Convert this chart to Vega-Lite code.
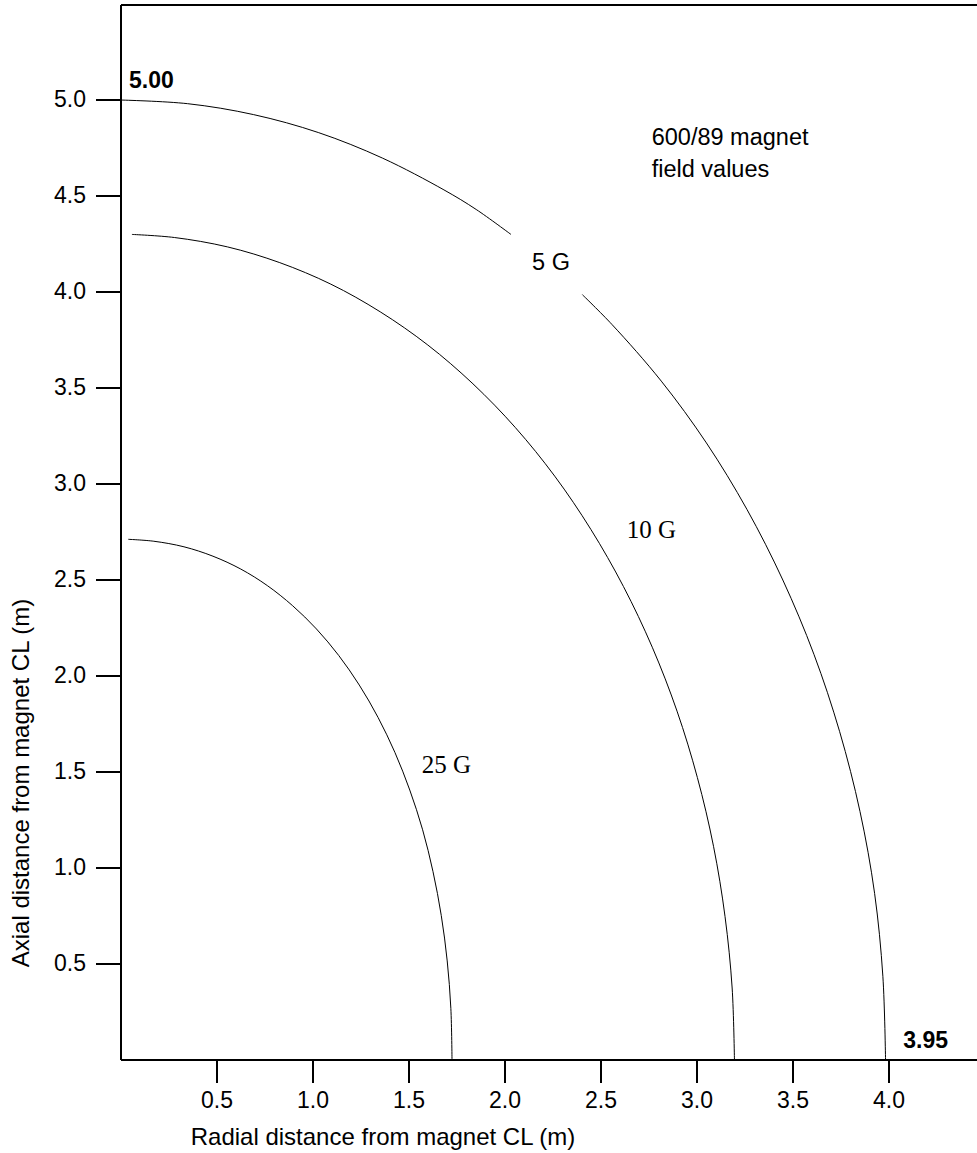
{
  "$schema": "https://vega.github.io/schema/vega-lite/v6.json",
  "autosize": "none",
  "padding": {"left": 121, "top": 5, "right": 0, "bottom": 93},
  "width": 856,
  "height": 1055,
  "background": "white",
  "config": {"view": {"stroke": null}},
  "datasets": {
    "curves": [
      {"seg": "5a", "i": 1, "x": 0.0, "y": 5.0},
      {"seg": "5a", "i": 2, "x": 0.347, "y": 4.981},
      {"seg": "5a", "i": 3, "x": 0.691, "y": 4.924},
      {"seg": "5a", "i": 4, "x": 1.03, "y": 4.83},
      {"seg": "5a", "i": 5, "x": 1.361, "y": 4.698},
      {"seg": "5a", "i": 6, "x": 1.682, "y": 4.532},
      {"seg": "5a", "i": 7, "x": 1.85, "y": 4.43},
      {"seg": "5a", "i": 8, "x": 2.031, "y": 4.3},
      {"seg": "5b", "i": 1, "x": 2.403, "y": 3.986},
      {"seg": "5b", "i": 2, "x": 2.558, "y": 3.83},
      {"seg": "5b", "i": 3, "x": 2.814, "y": 3.536},
      {"seg": "5b", "i": 4, "x": 3.049, "y": 3.214},
      {"seg": "5b", "i": 5, "x": 3.26, "y": 2.868},
      {"seg": "5b", "i": 6, "x": 3.447, "y": 2.5},
      {"seg": "5b", "i": 7, "x": 3.609, "y": 2.113},
      {"seg": "5b", "i": 8, "x": 3.743, "y": 1.71},
      {"seg": "5b", "i": 9, "x": 3.849, "y": 1.294},
      {"seg": "5b", "i": 10, "x": 3.925, "y": 0.868},
      {"seg": "5b", "i": 11, "x": 3.968, "y": 0.436},
      {"seg": "5b", "i": 12, "x": 3.982, "y": 0.0},
      {"seg": "10", "i": 1, "x": 0.057, "y": 4.3},
      {"seg": "10", "i": 2, "x": 0.278, "y": 4.284},
      {"seg": "10", "i": 3, "x": 0.555, "y": 4.235},
      {"seg": "10", "i": 4, "x": 0.827, "y": 4.153},
      {"seg": "10", "i": 5, "x": 1.093, "y": 4.041},
      {"seg": "10", "i": 6, "x": 1.35, "y": 3.897},
      {"seg": "10", "i": 7, "x": 1.598, "y": 3.724},
      {"seg": "10", "i": 8, "x": 1.833, "y": 3.522},
      {"seg": "10", "i": 9, "x": 2.054, "y": 3.294},
      {"seg": "10", "i": 10, "x": 2.259, "y": 3.041},
      {"seg": "10", "i": 11, "x": 2.447, "y": 2.764},
      {"seg": "10", "i": 12, "x": 2.617, "y": 2.466},
      {"seg": "10", "i": 13, "x": 2.767, "y": 2.15},
      {"seg": "10", "i": 14, "x": 2.896, "y": 1.817},
      {"seg": "10", "i": 15, "x": 3.002, "y": 1.471},
      {"seg": "10", "i": 16, "x": 3.086, "y": 1.113},
      {"seg": "10", "i": 17, "x": 3.146, "y": 0.747},
      {"seg": "10", "i": 18, "x": 3.183, "y": 0.375},
      {"seg": "10", "i": 19, "x": 3.195, "y": 0.0},
      {"seg": "25", "i": 1, "x": 0.038, "y": 2.712},
      {"seg": "25", "i": 2, "x": 0.171, "y": 2.702},
      {"seg": "25", "i": 3, "x": 0.328, "y": 2.673},
      {"seg": "25", "i": 4, "x": 0.479, "y": 2.624},
      {"seg": "25", "i": 5, "x": 0.624, "y": 2.557},
      {"seg": "25", "i": 6, "x": 0.762, "y": 2.471},
      {"seg": "25", "i": 7, "x": 0.894, "y": 2.366},
      {"seg": "25", "i": 8, "x": 1.018, "y": 2.245},
      {"seg": "25", "i": 9, "x": 1.134, "y": 2.107},
      {"seg": "25", "i": 10, "x": 1.241, "y": 1.953},
      {"seg": "25", "i": 11, "x": 1.339, "y": 1.784},
      {"seg": "25", "i": 12, "x": 1.427, "y": 1.601},
      {"seg": "25", "i": 13, "x": 1.504, "y": 1.406},
      {"seg": "25", "i": 14, "x": 1.571, "y": 1.199},
      {"seg": "25", "i": 15, "x": 1.625, "y": 0.981},
      {"seg": "25", "i": 16, "x": 1.668, "y": 0.753},
      {"seg": "25", "i": 17, "x": 1.699, "y": 0.516},
      {"seg": "25", "i": 18, "x": 1.718, "y": 0.269},
      {"seg": "25", "i": 19, "x": 1.724, "y": 0.0}
    ]
  },
  "encoding": {
    "x": {
      "field": "x", "type": "quantitative",
      "scale": {"domain": [0, 4.4583], "nice": false, "zero": false},
      "axis": {
        "title": "Radial distance from magnet CL (m)",
        "values": [0.5, 1, 1.5, 2, 2.5, 3, 3.5, 4],
        "format": ".1f", "grid": false, "translate": 0,
        "domainColor": "black", "domainWidth": 2,
        "tickColor": "black", "tickWidth": 2, "tickSize": 23,
        "labelFont": "Liberation Sans", "labelFontSize": 23, "labelColor": "black", "labelPadding": 7,
        "titleFont": "Liberation Sans", "titleFontSize": 24, "titleFontWeight": "normal", "titleColor": "black",
        "titleX": 262, "titleY": 85, "titleAlign": "center", "titleBaseline": "alphabetic"
      }
    },
    "y": {
      "field": "y", "type": "quantitative",
      "scale": {"domain": [0, 5.495], "nice": false, "zero": false},
      "axis": {
        "title": "Axial distance from magnet CL (m)",
        "values": [0.5, 1, 1.5, 2, 2.5, 3, 3.5, 4, 4.5, 5],
        "format": ".1f", "grid": false, "translate": 0,
        "domainColor": "black", "domainWidth": 2,
        "tickColor": "black", "tickWidth": 2, "tickSize": 25,
        "labelFont": "Liberation Sans", "labelFontSize": 23, "labelColor": "black", "labelPadding": 10,
        "titleFont": "Liberation Sans", "titleFontSize": 24, "titleFontWeight": "normal", "titleColor": "black",
        "titleX": -92, "titleY": 778, "titleAngle": -90, "titleAlign": "center", "titleBaseline": "alphabetic"
      }
    }
  },
  "layer": [
    {
      "data": {"name": "curves"},
      "mark": {"type": "line", "stroke": "black", "strokeWidth": 1, "interpolate": "catmull-rom"},
      "encoding": {
        "detail": {"field": "seg", "type": "nominal"},
        "order": {"field": "i", "type": "quantitative"}
      }
    },
    {
      "data": {"values": [{"y": 5.495}]},
      "mark": {"type": "rule", "stroke": "black", "strokeWidth": 2},
      "encoding": {"x": null}
    },
    {
      "data": {"values": [
        {"label": "5.00", "x": 0.042, "y": 5.0625},
        {"label": "3.95", "x": 4.074, "y": 0.061}
      ]},
      "mark": {"type": "text", "font": "Liberation Sans", "fontSize": 23, "fontWeight": "bold", "align": "left", "baseline": "alphabetic", "color": "black"},
      "encoding": {"text": {"field": "label"}}
    },
    {
      "data": {"values": [
        {"label": "600/89 magnet", "x": 2.764, "y": 4.766},
        {"label": "field values", "x": 2.764, "y": 4.6}
      ]},
      "mark": {"type": "text", "font": "Liberation Sans", "fontSize": 23.5, "align": "left", "baseline": "alphabetic", "color": "black"},
      "encoding": {"text": {"field": "label"}}
    },
    {
      "data": {"values": [
        {"label": "5 G", "x": 2.141, "y": 4.115}
      ]},
      "mark": {"type": "text", "font": "Arial, Liberation Sans, sans-serif", "fontSize": 23.5, "align": "left", "baseline": "alphabetic", "color": "black"},
      "encoding": {"text": {"field": "label"}}
    },
    {
      "data": {"values": [
        {"label": "10 G", "x": 2.634, "y": 2.717},
        {"label": "25 G", "x": 1.566, "y": 1.496}
      ]},
      "mark": {"type": "text", "font": "Liberation Serif", "fontSize": 25, "align": "left", "baseline": "alphabetic", "color": "black"},
      "encoding": {"text": {"field": "label"}}
    }
  ]
}
